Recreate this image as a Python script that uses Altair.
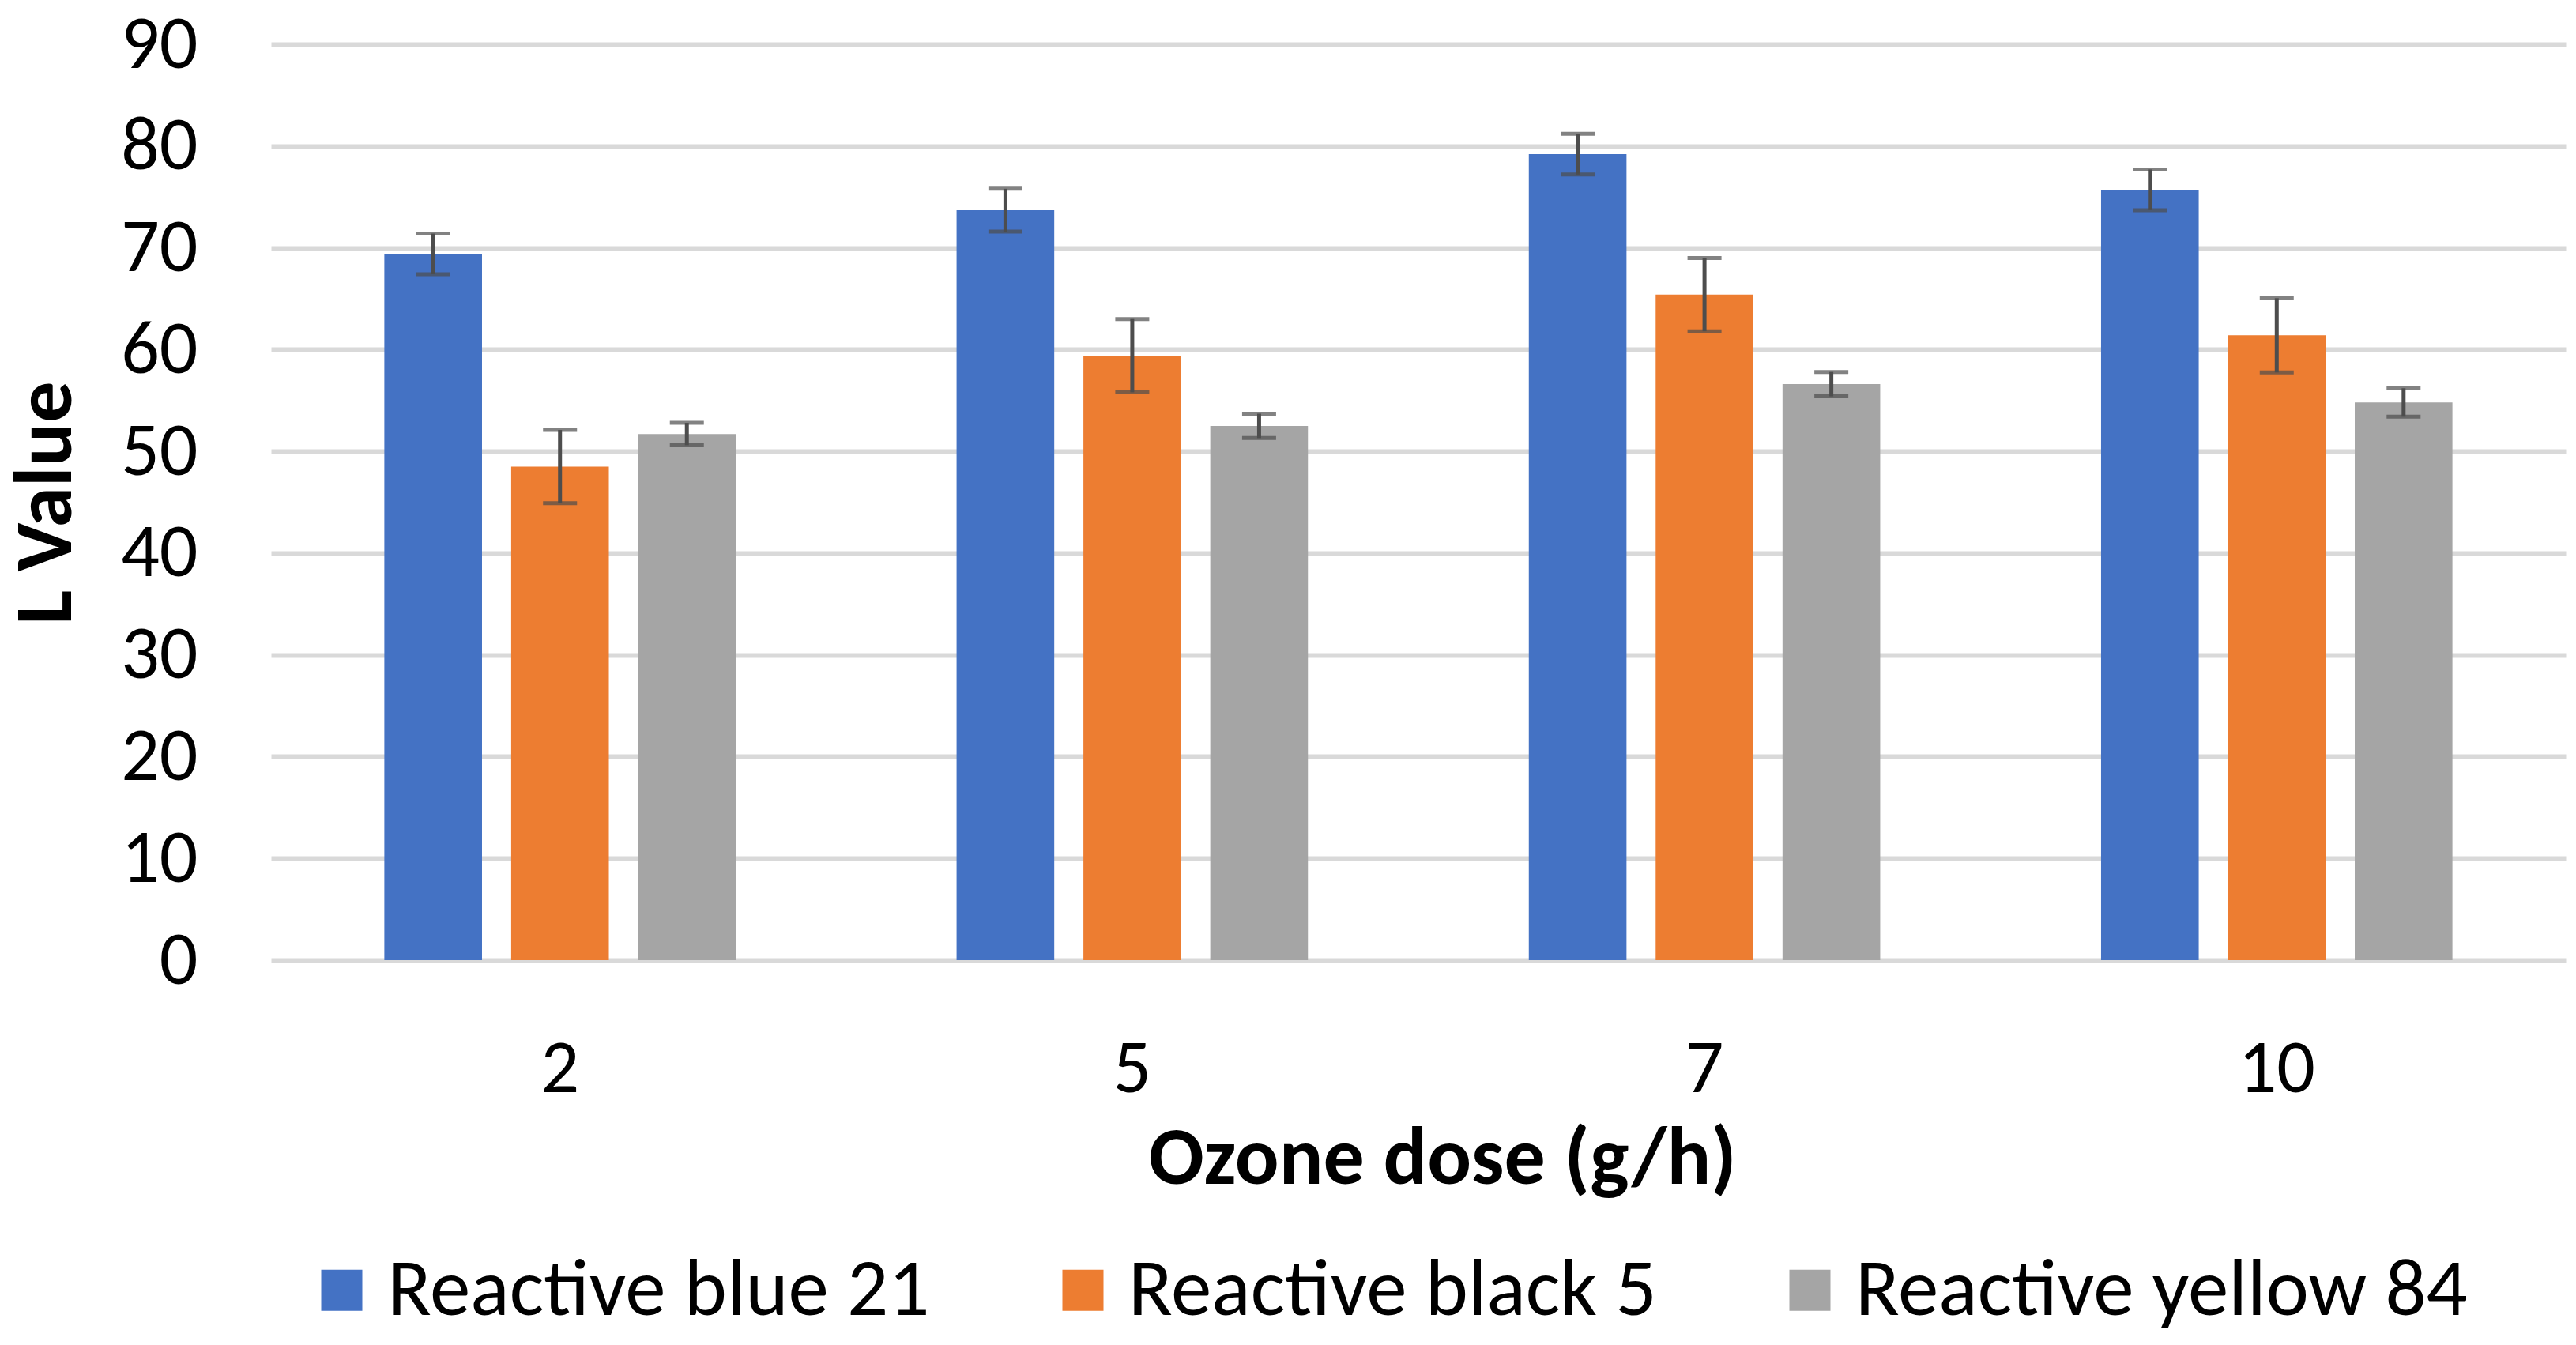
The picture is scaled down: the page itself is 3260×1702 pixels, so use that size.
import altair as alt
import pandas as pd

doses = ["2", "5", "7", "10"]
series = ["Reactive blue 21", "Reactive black 5", "Reactive yellow 84"]
colors = ["#4472C4", "#ED7D31", "#A5A5A5"]

blue_vals = [69.4, 73.7, 79.2, 75.7]
blue_err = [2.0, 2.1, 2.0, 2.0]
black_vals = [48.5, 59.4, 65.4, 61.4]
black_err = [3.6, 3.6, 3.6, 3.65]
yellow_vals = [51.7, 52.5, 56.6, 54.8]
yellow_err = [1.1, 1.2, 1.2, 1.4]

rows = []
for name, vals, errs in zip(series, [blue_vals, black_vals, yellow_vals], [blue_err, black_err, yellow_err]):
    for d, v, e in zip(doses, vals, errs):
        rows.append({"dose": d, "series": name, "value": v, "low": v - e, "high": v + e})
df = pd.DataFrame(rows)

FONT = "Carlito, Lato"

x_enc = alt.X("dose:N", sort=doses,
              scale=alt.Scale(paddingInner=0.386, paddingOuter=0.198),
              axis=alt.Axis(title="Ozone dose (g/h)", labelAngle=0, domain=False, ticks=False,
                            labelFontSize=96, labelPadding=137, labelBaseline="middle",
                            labelColor="#000000", titleColor="#000000",
                            titleFontSize=104, titleFontWeight="bold", titleY=251,
                            titleX=1482, titleAlign="center",
                            titleBaseline="middle"))
xoff_enc = alt.XOffset("series:N", sort=series,
                       scale=alt.Scale(paddingInner=0.23, paddingOuter=0))

bars = alt.Chart(df).mark_bar().encode(
    x=x_enc,
    xOffset=xoff_enc,
    y=alt.Y("value:Q", scale=alt.Scale(domain=[0, 90], nice=False),
            axis=alt.Axis(values=list(range(0, 100, 10)), grid=True, gridColor="#d9d9d9",
                          gridWidth=6, domain=False, ticks=False, labelFontSize=96,
                          labelPadding=93, labelColor="#000000", titleColor="#000000",
                          title="L Value", titleFontSize=104, titleFontWeight="bold",
                          titleX=-285, titleY=580, titleBaseline="middle", titleAlign="center")),
    color=alt.Color("series:N", sort=series,
                    scale=alt.Scale(domain=series, range=colors),
                    legend=alt.Legend(orient="none", legendX=38, legendY=1525,
                                      direction="horizontal", title=None,
                                      symbolType="square", symbolSize=2704,
                                      symbolStrokeWidth=0, labelFontSize=103,
                                      labelLimit=0, labelColor="#000000",
                                      columnPadding=142, labelOffset=6)),
)

stems = alt.Chart(df).mark_rule(color="#4d4d4d", strokeWidth=5).encode(
    x=alt.X("dose:N", sort=doses),
    xOffset=alt.XOffset("series:N", sort=series),
    y="low:Q",
    y2="high:Q",
)

caps_hi = alt.Chart(df).mark_tick(color="#4d4d4d", orient="horizontal", size=43, thickness=5).encode(
    x=alt.X("dose:N", sort=doses),
    xOffset=alt.XOffset("series:N", sort=series),
    y="high:Q",
)
caps_lo = alt.Chart(df).mark_tick(color="#4d4d4d", orient="horizontal", size=43, thickness=5).encode(
    x=alt.X("dose:N", sort=doses),
    xOffset=alt.XOffset("series:N", sort=series),
    y="low:Q",
)

chart = alt.layer(bars, stems, caps_hi, caps_lo).properties(
    width=2904, height=1159,
    autosize=alt.AutoSizeParams(type="none"),
    padding={"left": 335, "top": 48, "right": 5, "bottom": 479},
).configure(font=FONT).configure_view(strokeOpacity=0)

chart.save("out.html", embed_options={"renderer": "svg", "actions": False})
